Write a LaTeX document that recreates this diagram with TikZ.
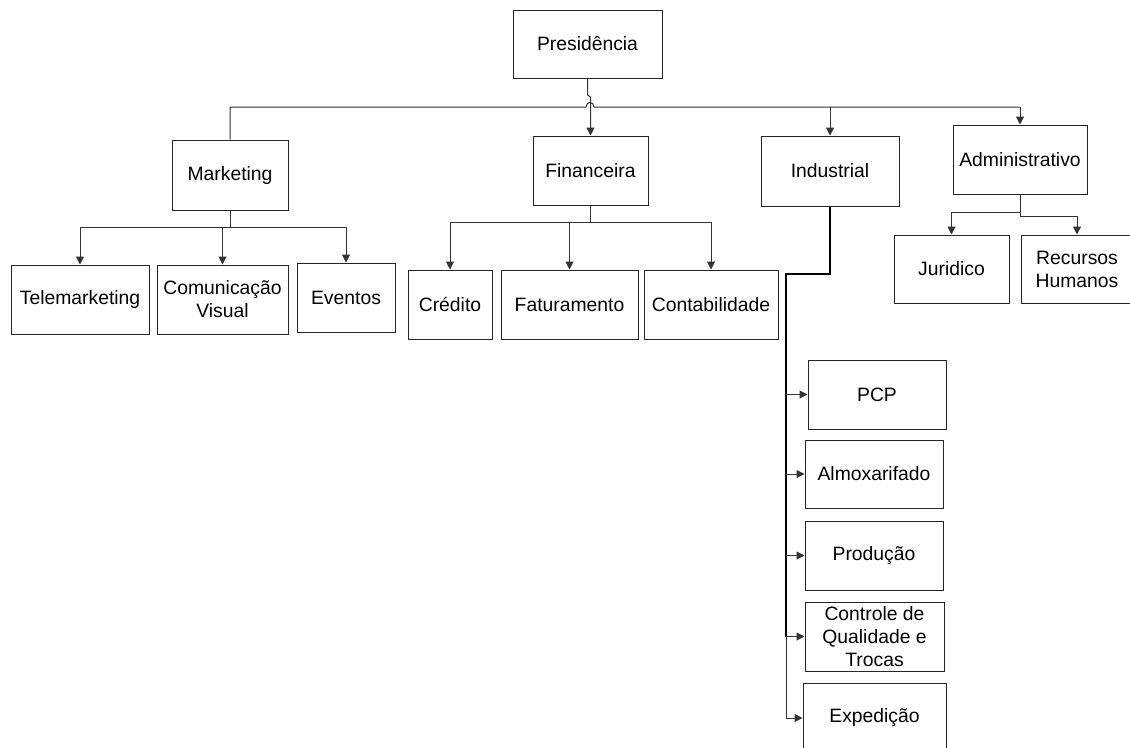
\documentclass[tikz,border=0pt]{standalone}
\usepackage{fontspec}
\setmainfont{Liberation Sans}
\usetikzlibrary{calc, arrows.meta}

\tikzset{
    unit/.style={rectangle, draw=black!85, line width=0.75pt, inner sep=0pt,
        minimum height=51.75pt, align=center,
        font=\fontsize{14.5}{17.25}\selectfont},
    link/.style={draw=black!80, line width=0.75pt},
    spine/.style={draw=black, line width=1.8pt}
}

\begin{document}
\begin{tikzpicture}[
    x=0.75pt, y=-0.75pt,
    >={Triangle[length=6pt, width=6pt]}
]

\useasboundingbox (0,0) rectangle (1130,747);

% Nodes ------------------------------------------------------

\node[unit, minimum width=111.75pt, minimum height=51pt] (pres) at (587.5,44) {Presidência};

\node[unit, minimum width=87pt, minimum height=52.5pt] (mkt) at (230,175) {Marketing};
\node[unit, minimum width=86.25pt] (fin) at (590.5,170.5) {Financeira};
\node[unit, minimum width=103.5pt, minimum height=52.5pt] (ind) at (830,171) {Industrial};
\node[unit, minimum width=100.5pt] (adm) at (1020,159.5) {Administrativo};

\node[unit, minimum width=103.5pt] (tel) at (80,299.5) {Telemarketing};
\node[unit, minimum width=98.25pt] (com) at (222.5,299.5) {Comunicação\\Visual};
\node[unit, minimum width=73.5pt] (evt) at (346,297.5) {Eventos};

\node[unit, minimum width=63pt] (cre) at (450,304.5) {Crédito};
\node[unit, minimum width=102.75pt] (fat) at (569.5,304.5) {Faturamento};
\node[unit, minimum width=100.5pt] (con) at (711,304.5) {Contabilidade};

\node[unit, minimum width=86.25pt, minimum height=51pt] (jur) at (951.5,269) {Juridico};
\node[unit, minimum width=84pt, minimum height=51pt] (rh) at (1077,269) {Recursos\\Humanos};

\node[unit, minimum width=103.5pt] (pcp) at (877,394.5) {PCP};
\node[unit, minimum width=103.5pt, minimum height=51pt] (alm) at (874,474) {Almoxarifado};
\node[unit, minimum width=103.5pt] (pro) at (874,555.5) {Produção};
\node[unit, minimum width=104.25pt] (ctl) at (874.5,636.5) {Controle de\\Qualidade e\\Trocas};
\node[unit, minimum width=107.25pt, minimum height=52.5pt] (exp) at (874.5,718) {Expedição};

\coordinate (hopL) at (586,107);
\coordinate (hopR) at (594,107);
\coordinate (busR) at (1020,107);
\coordinate (jog1) at (587.5,95);
\coordinate (jog2) at (590.5,97);
\coordinate (stem) at (786,274);

% Arrows ---------------------------------------------------

\draw [link] (mkt.north) |- (hopL) .. controls +(0,-6) and +(0,-6) .. (hopR) -- (busR);
\draw [link, ->] (busR) -- (adm.north);
\draw [link, ->] (ind.north |- busR) -- (ind.north);
\draw [link, ->] (pres.south) -- (jog1) -- (jog2) -- (fin.north);

\draw [link, ->] (mkt.south) -- ++(0,17) -| (tel.north);
\draw [link, ->] (mkt.south) -- ++(0,17) -| (com.north);
\draw [link, ->] (mkt.south) -- ++(0,17) -| (evt.north);

\draw [link, ->] (fin.south) -- ++(0,17) -| (cre.north);
\draw [link, ->] (fin.south) -- ++(0,17) -| (fat.north);
\draw [link, ->] (fin.south) -- ++(0,17) -| (con.north);

\draw [link, ->] (adm.south) -- ++(0,18) -| (jur.north);
\draw [link, ->] (adm.south) -- ++(0,22) -| (rh.north);

\draw [spine] (ind.south) |- (stem) -- (stem |- ctl.west);
\foreach \b in {pcp, alm, pro, ctl}
    \draw [link, ->] (stem |- \b.west) -- (\b.west);
\draw [link, ->] (stem |- ctl.west) |- (exp.west);

\end{tikzpicture}
\end{document}
